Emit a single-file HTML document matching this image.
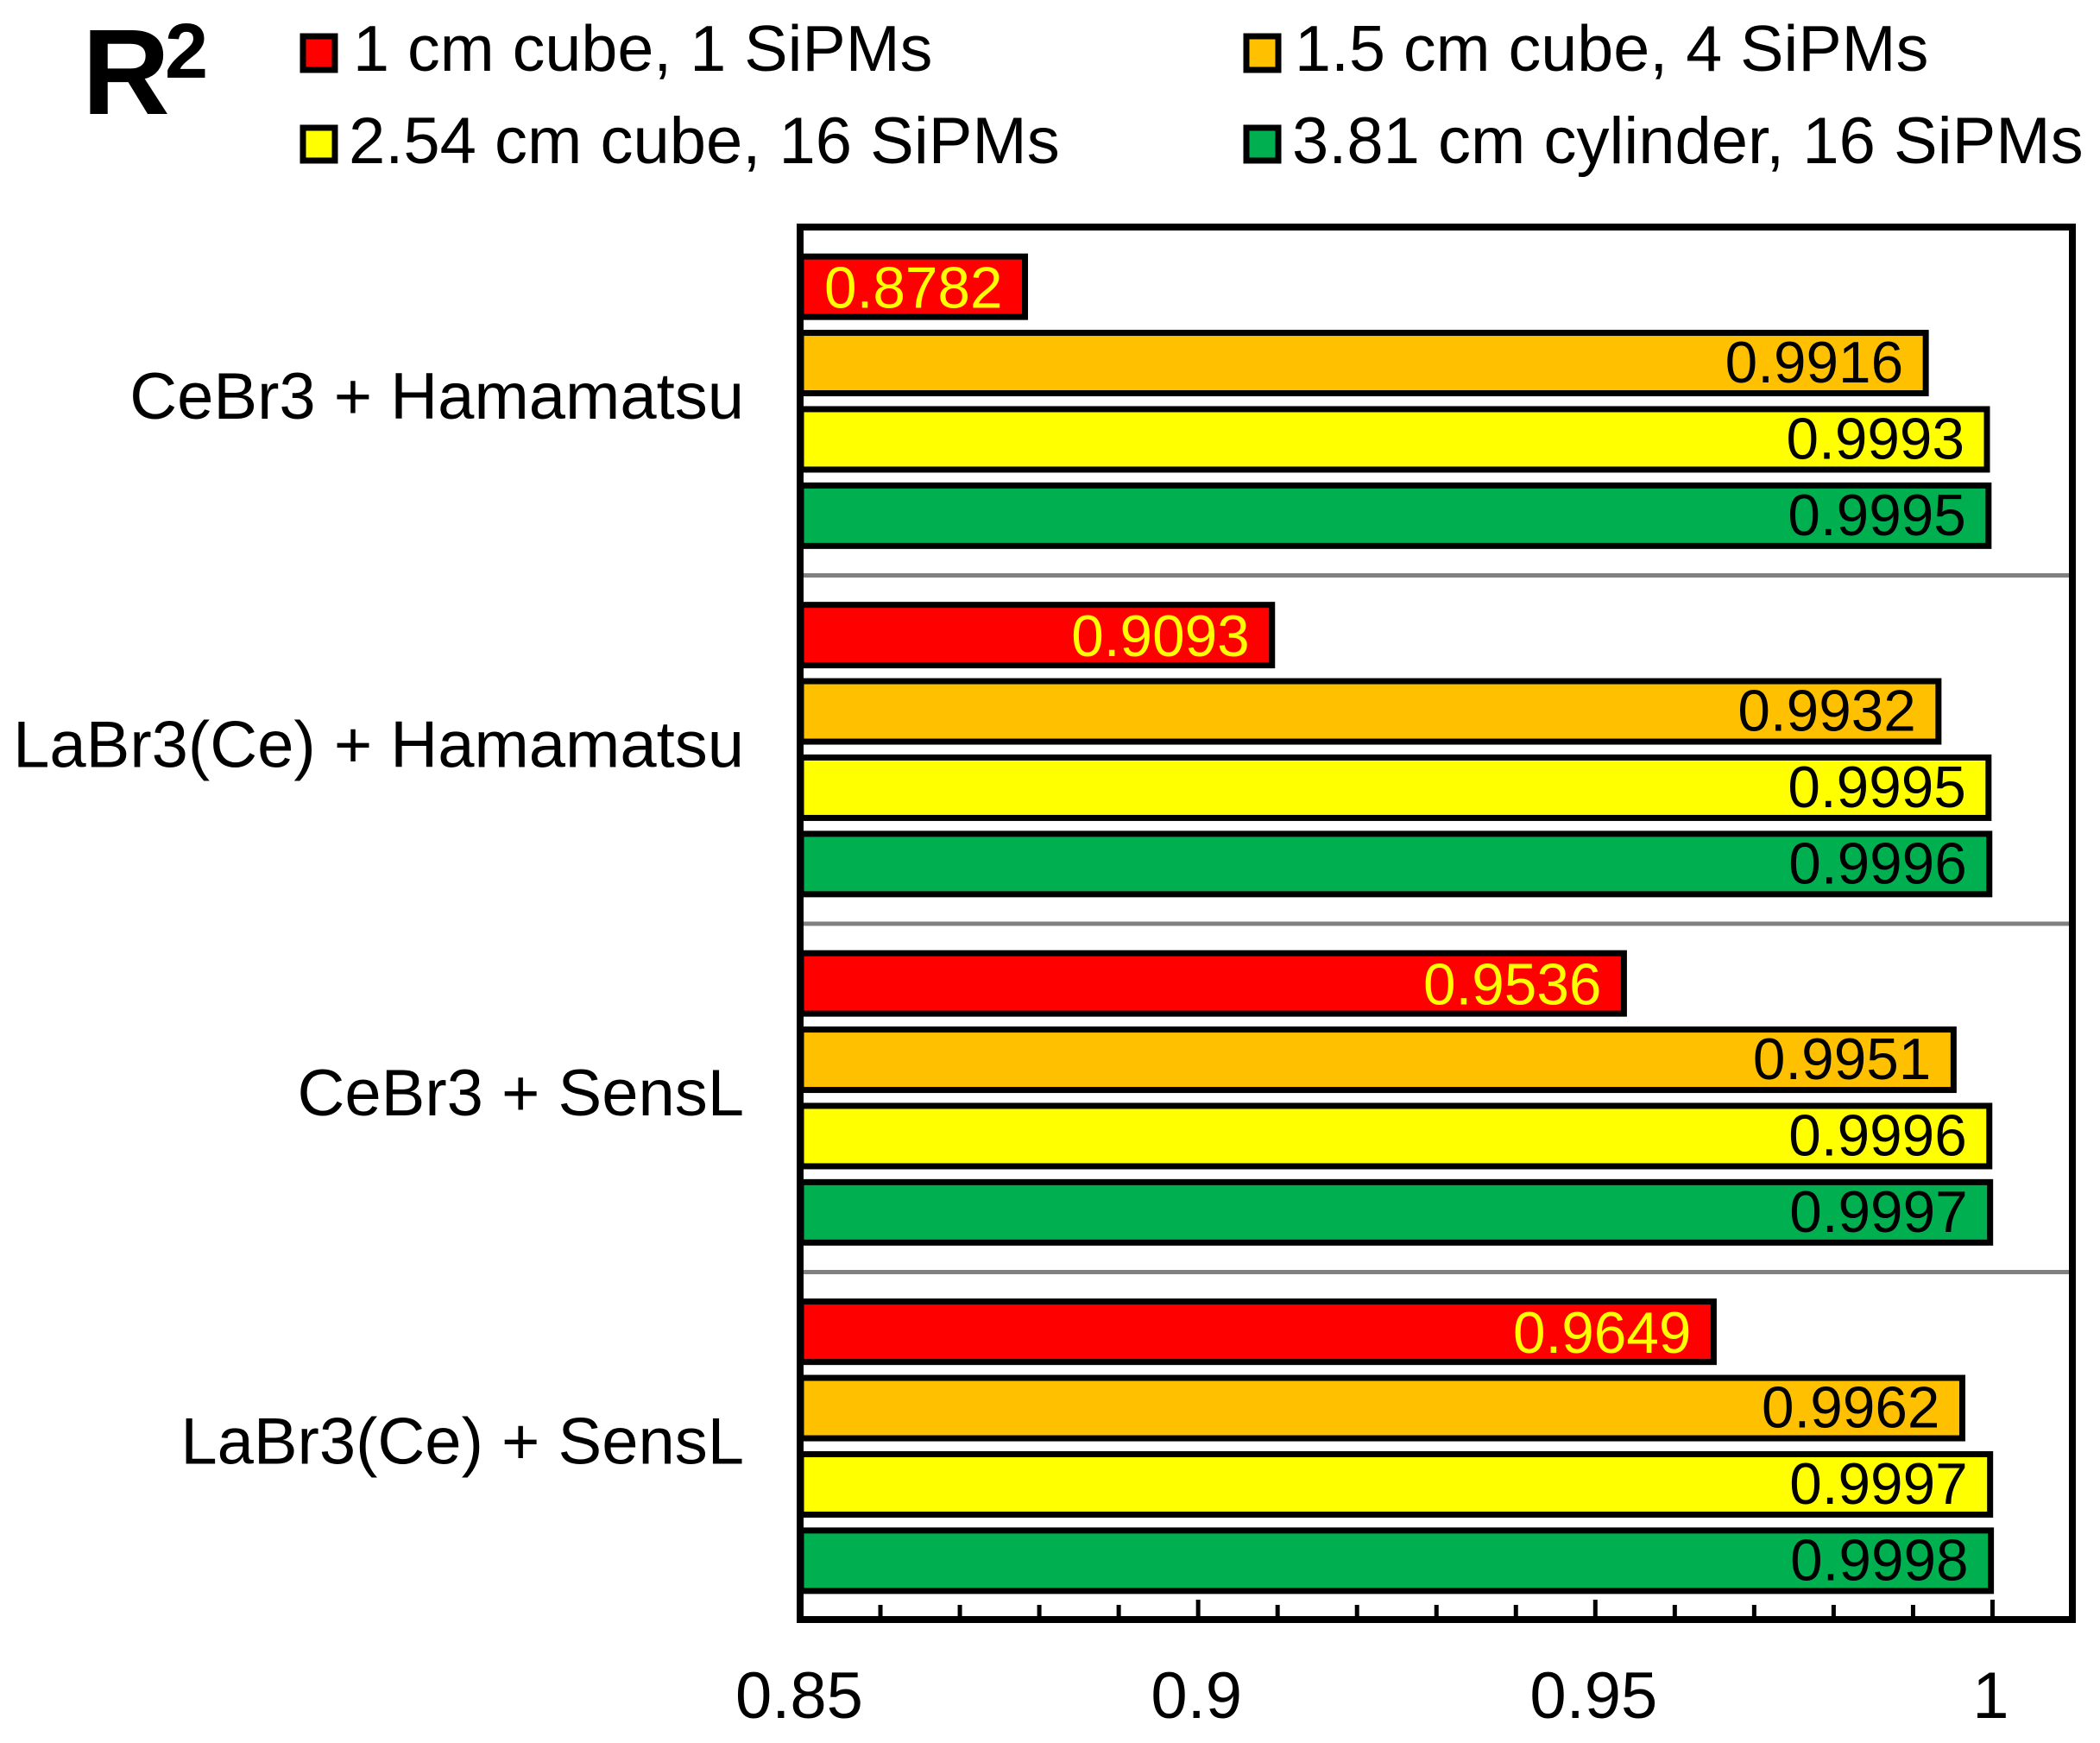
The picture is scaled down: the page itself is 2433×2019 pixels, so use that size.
<!DOCTYPE html>
<html lang="en">
<head>
<meta charset="utf-8">
<title>R2 bar chart</title>
<style>
html,body{margin:0;padding:0;background:#fff;}
svg{display:block;}
text{font-family:"Liberation Sans",Arial,sans-serif;fill:#000;}
</style>
</head>
<body>
<svg id="chart" xmlns="http://www.w3.org/2000/svg" width="2433" height="2019" viewBox="0 0 2433 2019">
  <rect x="0" y="0" width="2433" height="2019" fill="#ffffff"/>
  <g>
    <text x="95" y="132" font-size="141" font-weight="700">R</text>
    <text x="191" y="90" font-size="90" font-weight="700">2</text>
  </g>
  <g>
    <g>
      <rect x="351" y="42" width="37" height="39" fill="#ff0000" stroke="#000" stroke-width="7"/>
      <text x="409" y="82" font-size="75.5">1 cm cube, 1 SiPMs</text>
    </g>
    <g>
      <rect x="1444" y="42" width="37" height="39" fill="#ffc000" stroke="#000" stroke-width="7"/>
      <text x="1500" y="82" font-size="75.5">1.5 cm cube, 4 SiPMs</text>
    </g>
    <g>
      <rect x="351" y="148" width="37" height="38" fill="#ffff00" stroke="#000" stroke-width="7"/>
      <text x="404" y="189" font-size="76">2.54 cm cube, 16 SiPMs</text>
    </g>
    <g>
      <rect x="1444" y="148" width="37" height="38" fill="#00b050" stroke="#000" stroke-width="7"/>
      <text x="1497" y="189" font-size="76">3.81 cm cylinder, 16 SiPMs</text>
    </g>
  </g>
  <g id="separators"></g>
  <g id="bars"></g>
  <g id="ticks"></g>
  <rect x="927" y="263" width="1474" height="1613" fill="none" stroke="#000" stroke-width="8"/>
  <g id="xlabels"></g>
  <g id="ylabels"></g>
</svg>
<script>
const categories = ["CeBr3 + Hamamatsu", "LaBr3(Ce) + Hamamatsu", "CeBr3 + SensL", "LaBr3(Ce) + SensL"];
const seriesCube1cm = [0.8782, 0.9093, 0.9536, 0.9649];
const seriesCube1p5cm = [0.9916, 0.9932, 0.9951, 0.9962];
const seriesCube2p54cm = [0.9993, 0.9995, 0.9996, 0.9997];
const seriesCylinder3p81cm = [0.9995, 0.9996, 0.9997, 0.9998];
const majorTicks = [0.85, 0.9, 0.95, 1];
const minorTicks = [0.86, 0.87, 0.88, 0.89, 0.91, 0.92, 0.93, 0.94, 0.96, 0.97, 0.98, 0.99];
const majorTickLabels = ["0.85", "0.9", "0.95", "1"];

const NS = "http://www.w3.org/2000/svg";
const plotTop = 263, plotBottom = 1877, barStep = 88.4, barHeight = 70;
const xScale = v => 928 + (v - 0.85) * 9203;
const groupHeight = (plotBottom - plotTop) / categories.length;
const groupCenter = i => plotTop + groupHeight * (i + 0.5);
const mk = (tag, parentId) => {
  const e = document.createElementNS(NS, tag);
  document.getElementById(parentId).appendChild(e);
  return e;
};
const allSeries = [
  { key: "1cm", values: seriesCube1cm, fill: "#ff0000", label: "#ffff00" },
  { key: "1-5cm", values: seriesCube1p5cm, fill: "#ffc000", label: "#000000" },
  { key: "2-54cm", values: seriesCube2p54cm, fill: "#ffff00", label: "#000000" },
  { key: "3-81cm", values: seriesCylinder3p81cm, fill: "#00b050", label: "#000000" }
];

categories.forEach((cat, i) => {
  if (i > 0) {
    const sep = mk("line", "separators");
    
    
    sep.setAttribute("x1", xScale(0.85));
    sep.setAttribute("x2", 2401);
    sep.setAttribute("y1", plotTop + groupHeight * i);
    sep.setAttribute("y2", plotTop + groupHeight * i);
    sep.setAttribute("stroke", "#808080");
    sep.setAttribute("stroke-width", "5");
  }
  const lab = mk("text", "ylabels");
  
  
  lab.setAttribute("x", 862);
  lab.setAttribute("y", groupCenter(i) + 20);
  lab.setAttribute("text-anchor", "end");
  lab.setAttribute("font-size", "76");
  lab.textContent = cat;

  allSeries.forEach((s, j) => {
    const v = s.values[i];
    const cy = groupCenter(i) + (j - 1.5) * barStep;
    const r = mk("rect", "bars");
    
    
    r.setAttribute("x", xScale(0.85));
    r.setAttribute("y", cy - barHeight / 2);
    r.setAttribute("width", xScale(v) - xScale(0.85));
    r.setAttribute("height", barHeight);
    r.setAttribute("fill", s.fill);
    r.setAttribute("stroke", "#000");
    r.setAttribute("stroke-width", "7");
    const t = mk("text", "bars");
    
    
    t.setAttribute("x", xScale(v) - 26);
    t.setAttribute("y", cy + (j === 0 ? 24.5 : 22.5));
    t.setAttribute("text-anchor", "end");
    t.setAttribute("font-size", "67.5");
    t.setAttribute("style", "fill:" + s.label);
    t.textContent = v.toFixed(4);
  });
});

minorTicks.forEach(v => {
  const tick = mk("line", "ticks");
  
  
  tick.setAttribute("x1", xScale(v));
  tick.setAttribute("x2", xScale(v));
  tick.setAttribute("y1", 1859);
  tick.setAttribute("y2", plotBottom);
  tick.setAttribute("stroke", "#000");
  tick.setAttribute("stroke-width", "5");
});
majorTicks.forEach((v, i) => {
  const tick = mk("line", "ticks");
  
  
  tick.setAttribute("x1", xScale(v));
  tick.setAttribute("x2", xScale(v));
  tick.setAttribute("y1", 1853);
  tick.setAttribute("y2", plotBottom);
  tick.setAttribute("stroke", "#000");
  tick.setAttribute("stroke-width", "5");
  const t = mk("text", "xlabels");
  
  
  t.setAttribute("x", xScale(v) - 2);
  t.setAttribute("y", 1990);
  t.setAttribute("text-anchor", "middle");
  t.setAttribute("font-size", "76");
  t.textContent = majorTickLabels[i];
});
</script>
</body>
</html>
